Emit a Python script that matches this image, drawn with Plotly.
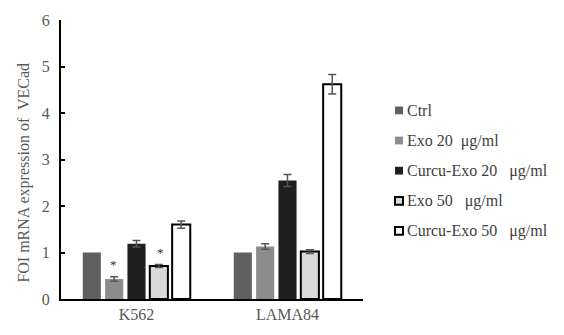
import plotly.graph_objects as go

# Cell lines on the x axis
cell_lines = ["K562", "LAMA84"]

# Treatment groups (legend order)
groups = ["Ctrl", "Exo 20  μg/ml", "Curcu-Exo 20   μg/ml", "Exo 50   μg/ml", "Curcu-Exo 50   μg/ml"]

# Relative mRNA expression of VE-cadherin per group, K562 then LAMA84
ctrl = [1.00, 1.00]
exo20 = [0.43, 1.13]
curcu_exo20 = [1.19, 2.55]
exo50 = [0.71, 1.02]
curcu_exo50 = [1.60, 4.62]

# Error bar half-widths
ctrl_err = [0.0, 0.0]
exo20_err = [0.05, 0.06]
curcu_exo20_err = [0.07, 0.13]
exo50_err = [0.03, 0.04]
curcu_exo50_err = [0.08, 0.21]

values = [ctrl, exo20, curcu_exo20, exo50, curcu_exo50]
errors = [ctrl_err, exo20_err, curcu_exo20_err, exo50_err, curcu_exo50_err]
fills = ["#606060", "#8c8c8c", "#1f1f1f", "#d9d9d9", "#ffffff"]
edges = ["#606060", "#8c8c8c", "#1f1f1f", "#000000", "#000000"]
edge_widths = [0, 0, 0, 2, 2]

font_family = "serif"

W, H = 564, 335
M_L, M_R, M_T, M_B = 61, 201, 15, 33
plot_w = W - M_L - M_R
plot_h = H - M_T - M_B

fig = go.Figure()
for name, vals, errs, fc, ec, ew in zip(groups, values, errors, fills, edges, edge_widths):
    show_err = any(e > 0 for e in errs)
    fig.add_trace(go.Bar(
        name=name,
        x=cell_lines,
        y=vals,
        showlegend=False,
        marker=dict(color=fc, line=dict(color=ec, width=ew)),
        error_y=dict(type="data", array=errs, visible=show_err,
                     color="#555555", thickness=1.5, width=4),
    ))

# Significance markers above K562 Exo 20 and Exo 50 bars
bar_pitch = 23.5
for idx in (1, 3):
    top = values[idx][0] + errors[idx][0]
    fig.add_annotation(
        x="K562", y=top + 0.05, text="*", showarrow=False,
        xshift=(idx - 2) * bar_pitch, yanchor="bottom",
        font=dict(family=font_family, size=13, color="#303030"),
    )

# Pixel helpers for placing items in paper coordinates
def px_x(px):
    return (px - M_L) / plot_w

def px_y(py):
    return (H - M_B - py) / plot_h

# Legend: small square swatch followed by the group label
legend_rows = [108, 139, 170, 201, 232]
sw = 8
for name, fc, ec, ew, row in zip(groups, fills, edges, edge_widths, legend_rows):
    fig.add_shape(
        type="rect", xref="paper", yref="paper",
        x0=px_x(395), x1=px_x(395 + sw),
        y0=px_y(row + sw / 2), y1=px_y(row - sw / 2),
        fillcolor=fc, line=dict(color=ec if ew else fc, width=ew if ew else 0),
    )
    fig.add_annotation(
        xref="paper", yref="paper", x=px_x(405), y=px_y(row),
        xanchor="left", yanchor="middle", showarrow=False, text=name,
        font=dict(family=font_family, size=16, color="#404040"),
    )

# Y-axis title
fig.add_annotation(
    xref="paper", yref="paper", x=px_x(24), y=px_y(172),
    xanchor="center", yanchor="middle", showarrow=False, textangle=-90,
    text="FOI mRNA expression of  VECad",
    font=dict(family=font_family, size=16, color="#595959"),
)

fig.update_layout(
    width=W, height=H,
    margin=dict(l=M_L, r=M_R, t=M_T, b=M_B),
    paper_bgcolor="white", plot_bgcolor="white",
    barmode="group", bargap=0.26, bargroupgap=0.19,
    font=dict(family=font_family, size=16, color="#595959"),
    showlegend=False,
    xaxis=dict(
        showline=True, linecolor="#000000", linewidth=2,
        ticks="", showgrid=False,
        tickfont=dict(family=font_family, size=16, color="#595959"),
    ),
    yaxis=dict(
        range=[0, 6], dtick=1,
        showline=True, linecolor="#000000", linewidth=2,
        ticks="inside", ticklen=4, tickwidth=1.5, tickcolor="#000000",
        showgrid=False, zeroline=False,
        ticklabelstandoff=6,
        tickfont=dict(family=font_family, size=16, color="#595959"),
    ),
)

fig.write_html("out.html")
